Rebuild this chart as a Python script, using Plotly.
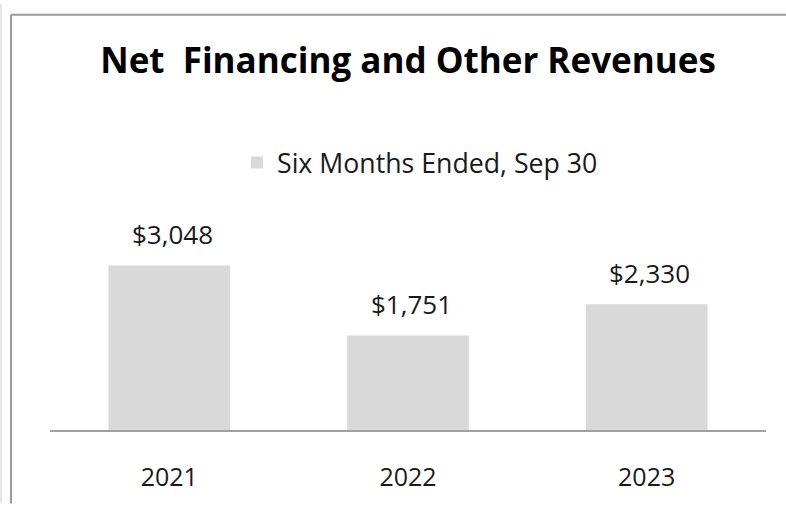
import plotly.graph_objects as go

categories = ["2021", "2022", "2023"]
values = [3048, 1751, 2330]
labels = ["$3,048", "$1,751", "$2,330"]
series_name = "Six Months Ended, Sep 30"
title_text = "Net&nbsp; Financing and Other Revenues"

W, H = 786, 505
ml, mr, mt, mb = 50, 20, 190, 70
ph = H - mt - mb
ymax = ph / 0.05512
FONT = "Open Sans"

fig = go.Figure()
fig.add_trace(go.Bar(
    x=categories, y=values, name=series_name,
    marker=dict(color="#d9d9d9", line=dict(width=0)),
    width=0.51, showlegend=True, hoverinfo="skip",
))

for i, (v, t) in enumerate(zip(values, labels)):
    fig.add_annotation(x=i, y=v, text=t, showarrow=False, yanchor="bottom",
                       xanchor="center", yshift=11, xshift=3,
                       font=dict(family=FONT, size=26, color="#1a1a1a"))

pw = W - ml - mr
def px_to_paper_x(px):
    return (px - ml) / pw
def px_to_paper_y(py):
    return (H - mb - py) / ph

# border lines (left and top)
fig.add_shape(type="line", xref="paper", yref="paper",
              x0=px_to_paper_x(11), x1=px_to_paper_x(11),
              y0=px_to_paper_y(11), y1=px_to_paper_y(510),
              line=dict(color="#9a9a9a", width=2))
fig.add_shape(type="line", xref="paper", yref="paper",
              x0=px_to_paper_x(11), x1=px_to_paper_x(800),
              y0=px_to_paper_y(11), y1=px_to_paper_y(11),
              line=dict(color="#9a9a9a", width=2))
fig.add_shape(type="line", xref="paper", yref="paper",
              x0=px_to_paper_x(1), x1=px_to_paper_x(1),
              y0=px_to_paper_y(0), y1=px_to_paper_y(510),
              line=dict(color="#e6e6e6", width=2))

fig.update_layout(
    width=W, height=H,
    margin=dict(l=ml, r=mr, t=mt, b=mb),
    paper_bgcolor="white", plot_bgcolor="white",
    title=dict(text="<b>" + title_text + "</b>", xref="paper", x=0.5, xanchor="center",
               y=1 - 61 / H, yanchor="middle",
               font=dict(family=FONT, size=35, color="black")),
    legend=dict(orientation="h", x=px_to_paper_x(420), xanchor="center",
                y=px_to_paper_y(162), yanchor="middle", yref="paper",
                font=dict(family=FONT, size=26.7, color="#1a1a1a"),
                bgcolor="rgba(0,0,0,0)"),
    xaxis=dict(type="category", showline=True, linecolor="#a0a0a0", linewidth=2,
               showgrid=False, ticks="outside", ticklen=24, tickcolor="rgba(0,0,0,0)",
               tickfont=dict(family=FONT, size=25, color="#1a1a1a")),
    yaxis=dict(range=[0, ymax], visible=False, showgrid=False),
    bargap=0.49,
)

fig.write_html("out.html", config={"displayModeBar": False},
               post_script="document.body.style.margin='0';")
